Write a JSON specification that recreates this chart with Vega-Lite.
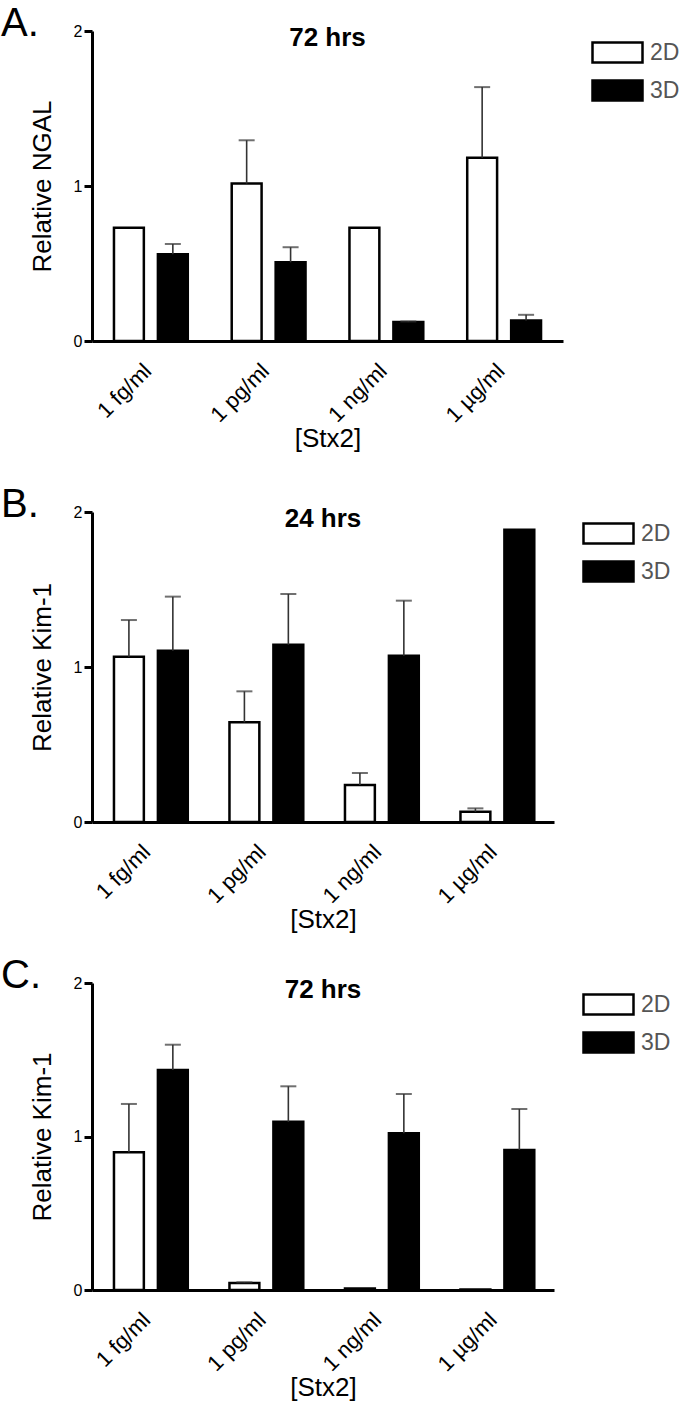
{
  "$schema": "https://vega.github.io/schema/vega-lite/v6.json",
  "background": "white",
  "padding": {"left": 1, "top": 4, "right": 0, "bottom": 0},
  "config": {
    "font": "Liberation Sans",
    "view": {"stroke": null},
    "axis": {"grid": false, "domainColor": "black", "domainWidth": 3, "tickColor": "black", "tickWidth": 3, "labelColor": "black", "titleColor": "black", "titleFontWeight": "normal", "labelFont": "Liberation Sans", "titleFont": "Liberation Sans"},
    "axisY": {"ticks": true, "tickSize": 8, "labelFontSize": 16, "labelPadding": 2, "titleFontSize": 26, "titlePadding": 18, "labelOverlap": false},
    "axisX": {"labelAngle": -45, "labelAlign": "right", "labelBaseline": "middle", "labelFontSize": 22, "ticks": false, "tickSize": 0, "labelPadding": 26, "labelOffset": -3, "titleFontSize": 26, "titlePadding": -1},
    "legend": {"orient": "right", "offset": 33, "padding": 10, "symbolType": "M-2.5,-1H2.5V1H-2.5Z", "symbolSize": 400, "symbolStrokeColor": "black", "symbolStrokeWidth": 2.5, "labelFontSize": 23, "labelColor": "#555", "labelFont": "Liberation Sans", "labelOffset": 21, "rowPadding": 7, "labelLimit": 0},
    "title": {"font": "Liberation Sans", "color": "black"}
  },
  "resolve": {"scale": {"x": "independent", "y": "independent", "fill": "independent"}, "legend": {"fill": "independent"}},
  "spacing": 33,
  "vconcat": [
    {
      "title": {"text": "A.", "anchor": "start", "frame": "bounds", "fontSize": 40, "fontWeight": "normal", "offset": -21, "dx": -28},
      "vconcat": [
        {
          "width": 471,
          "height": 310,
          "title": {"text": "72 hrs", "fontSize": 26, "fontWeight": "bold", "offset": -28, "anchor": "middle"},
          "data": {"values": [
            {"conc": "1 fg/ml", "culture": "2D", "mean": 0.73, "upper": null},
            {"conc": "1 fg/ml", "culture": "3D", "mean": 0.56, "upper": 0.626},
            {"conc": "1 pg/ml", "culture": "2D", "mean": 1.016, "upper": 1.295},
            {"conc": "1 pg/ml", "culture": "3D", "mean": 0.508, "upper": 0.605},
            {"conc": "1 ng/ml", "culture": "2D", "mean": 0.73, "upper": null},
            {"conc": "1 ng/ml", "culture": "3D", "mean": 0.122, "upper": 0.126},
            {"conc": "1 µg/ml", "culture": "2D", "mean": 1.183, "upper": 1.638},
            {"conc": "1 µg/ml", "culture": "3D", "mean": 0.133, "upper": 0.169}
          ]},
          "encoding": {
            "x": {"field": "conc", "type": "nominal", "sort": ["1 fg/ml", "1 pg/ml", "1 ng/ml", "1 µg/ml"], "scale": {"paddingInner": 0, "paddingOuter": 0}, "axis": {"title": "[Stx2]"}},
            "xOffset": {"field": "culture", "type": "nominal", "sort": ["2D", "3D"], "scale": {"paddingInner": 0.32, "paddingOuter": 0.5}}
          },
          "layer": [
            {"mark": {"type": "bar", "stroke": "black", "strokeWidth": 2.5},
             "encoding": {
               "y": {"field": "mean", "type": "quantitative", "scale": {"domain": [0, 2], "nice": false}, "axis": {"title": "Relative NGAL", "tickCount": 2, "format": "d", "labelOverlap": false, "ticks": true}},
               "fill": {"field": "culture", "type": "nominal", "scale": {"domain": ["2D", "3D"], "range": ["white", "black"]}, "legend": {"title": null}}
             }},
            {"transform": [{"filter": "isValid(datum.upper)"}],
             "mark": {"type": "rule", "color": "#333", "strokeWidth": 1.6},
             "encoding": {"y": {"field": "mean", "type": "quantitative"}, "y2": {"field": "upper"}}},
            {"transform": [{"filter": "isValid(datum.upper)"}],
             "mark": {"type": "tick", "color": "#333", "size": 16, "thickness": 2},
             "encoding": {"y": {"field": "upper", "type": "quantitative"}}}
          ]
        }
      ]
    },
    {
      "resolve": {"scale": {"x": "independent", "y": "independent", "fill": "independent"}, "legend": {"fill": "independent"}},
      "spacing": 23,
      "vconcat": [
        {
          "title": {"text": "B.", "anchor": "start", "frame": "bounds", "fontSize": 40, "fontWeight": "normal", "offset": -21, "dx": -28},
          "vconcat": [
            {
              "width": 462,
              "height": 310,
              "title": {"text": "24 hrs", "fontSize": 26, "fontWeight": "bold", "offset": -28, "anchor": "middle"},
              "data": {"values": [
                {"conc": "1 fg/ml", "culture": "2D", "mean": 1.066, "upper": 1.303},
                {"conc": "1 fg/ml", "culture": "3D", "mean": 1.105, "upper": 1.454},
                {"conc": "1 pg/ml", "culture": "2D", "mean": 0.643, "upper": 0.843},
                {"conc": "1 pg/ml", "culture": "3D", "mean": 1.144, "upper": 1.471},
                {"conc": "1 ng/ml", "culture": "2D", "mean": 0.239, "upper": 0.316},
                {"conc": "1 ng/ml", "culture": "3D", "mean": 1.073, "upper": 1.428},
                {"conc": "1 µg/ml", "culture": "2D", "mean": 0.066, "upper": 0.088},
                {"conc": "1 µg/ml", "culture": "3D", "mean": 1.886, "upper": null}
              ]},
              "encoding": {
                "x": {"field": "conc", "type": "nominal", "sort": ["1 fg/ml", "1 pg/ml", "1 ng/ml", "1 µg/ml"], "scale": {"paddingInner": 0, "paddingOuter": 0}, "axis": {"title": "[Stx2]"}},
                "xOffset": {"field": "culture", "type": "nominal", "sort": ["2D", "3D"], "scale": {"paddingInner": 0.32, "paddingOuter": 0.5}}
              },
              "layer": [
                {"mark": {"type": "bar", "stroke": "black", "strokeWidth": 2.5},
                 "encoding": {
                   "y": {"field": "mean", "type": "quantitative", "scale": {"domain": [0, 2], "nice": false}, "axis": {"title": "Relative Kim-1", "tickCount": 2, "format": "d", "labelOverlap": false, "ticks": true}},
                   "fill": {"field": "culture", "type": "nominal", "scale": {"domain": ["2D", "3D"], "range": ["white", "black"]}, "legend": {"title": null}}
                 }},
                {"transform": [{"filter": "isValid(datum.upper)"}],
                 "mark": {"type": "rule", "color": "#333", "strokeWidth": 1.6},
                 "encoding": {"y": {"field": "mean", "type": "quantitative"}, "y2": {"field": "upper"}}},
                {"transform": [{"filter": "isValid(datum.upper)"}],
                 "mark": {"type": "tick", "color": "#333", "size": 16, "thickness": 2},
                 "encoding": {"y": {"field": "upper", "type": "quantitative"}}}
              ]
            }
          ]
        },
        {
          "title": {"text": "C.", "anchor": "start", "frame": "bounds", "fontSize": 40, "fontWeight": "normal", "offset": -21, "dx": -28},
          "vconcat": [
            {
              "width": 462,
              "height": 307,
              "title": {"text": "72 hrs", "fontSize": 26, "fontWeight": "bold", "offset": -28, "anchor": "middle"},
              "data": {"values": [
                {"conc": "1 fg/ml", "culture": "2D", "mean": 0.897, "upper": 1.212},
                {"conc": "1 fg/ml", "culture": "3D", "mean": 1.433, "upper": 1.598},
                {"conc": "1 pg/ml", "culture": "2D", "mean": 0.046, "upper": 0.05},
                {"conc": "1 pg/ml", "culture": "3D", "mean": 1.096, "upper": 1.327},
                {"conc": "1 ng/ml", "culture": "2D", "mean": 0.01, "upper": null},
                {"conc": "1 ng/ml", "culture": "3D", "mean": 1.021, "upper": 1.277},
                {"conc": "1 µg/ml", "culture": "2D", "mean": 0.003, "upper": null},
                {"conc": "1 µg/ml", "culture": "3D", "mean": 0.912, "upper": 1.179}
              ]},
              "encoding": {
                "x": {"field": "conc", "type": "nominal", "sort": ["1 fg/ml", "1 pg/ml", "1 ng/ml", "1 µg/ml"], "scale": {"paddingInner": 0, "paddingOuter": 0}, "axis": {"title": "[Stx2]"}},
                "xOffset": {"field": "culture", "type": "nominal", "sort": ["2D", "3D"], "scale": {"paddingInner": 0.32, "paddingOuter": 0.5}}
              },
              "layer": [
                {"mark": {"type": "bar", "stroke": "black", "strokeWidth": 2.5},
                 "encoding": {
                   "y": {"field": "mean", "type": "quantitative", "scale": {"domain": [0, 2], "nice": false}, "axis": {"title": "Relative Kim-1", "tickCount": 2, "format": "d", "labelOverlap": false, "ticks": true}},
                   "fill": {"field": "culture", "type": "nominal", "scale": {"domain": ["2D", "3D"], "range": ["white", "black"]}, "legend": {"title": null}}
                 }},
                {"transform": [{"filter": "isValid(datum.upper)"}],
                 "mark": {"type": "rule", "color": "#333", "strokeWidth": 1.6},
                 "encoding": {"y": {"field": "mean", "type": "quantitative"}, "y2": {"field": "upper"}}},
                {"transform": [{"filter": "isValid(datum.upper)"}],
                 "mark": {"type": "tick", "color": "#333", "size": 16, "thickness": 2},
                 "encoding": {"y": {"field": "upper", "type": "quantitative"}}}
              ]
            }
          ]
        }
      ]
    }
  ]
}
